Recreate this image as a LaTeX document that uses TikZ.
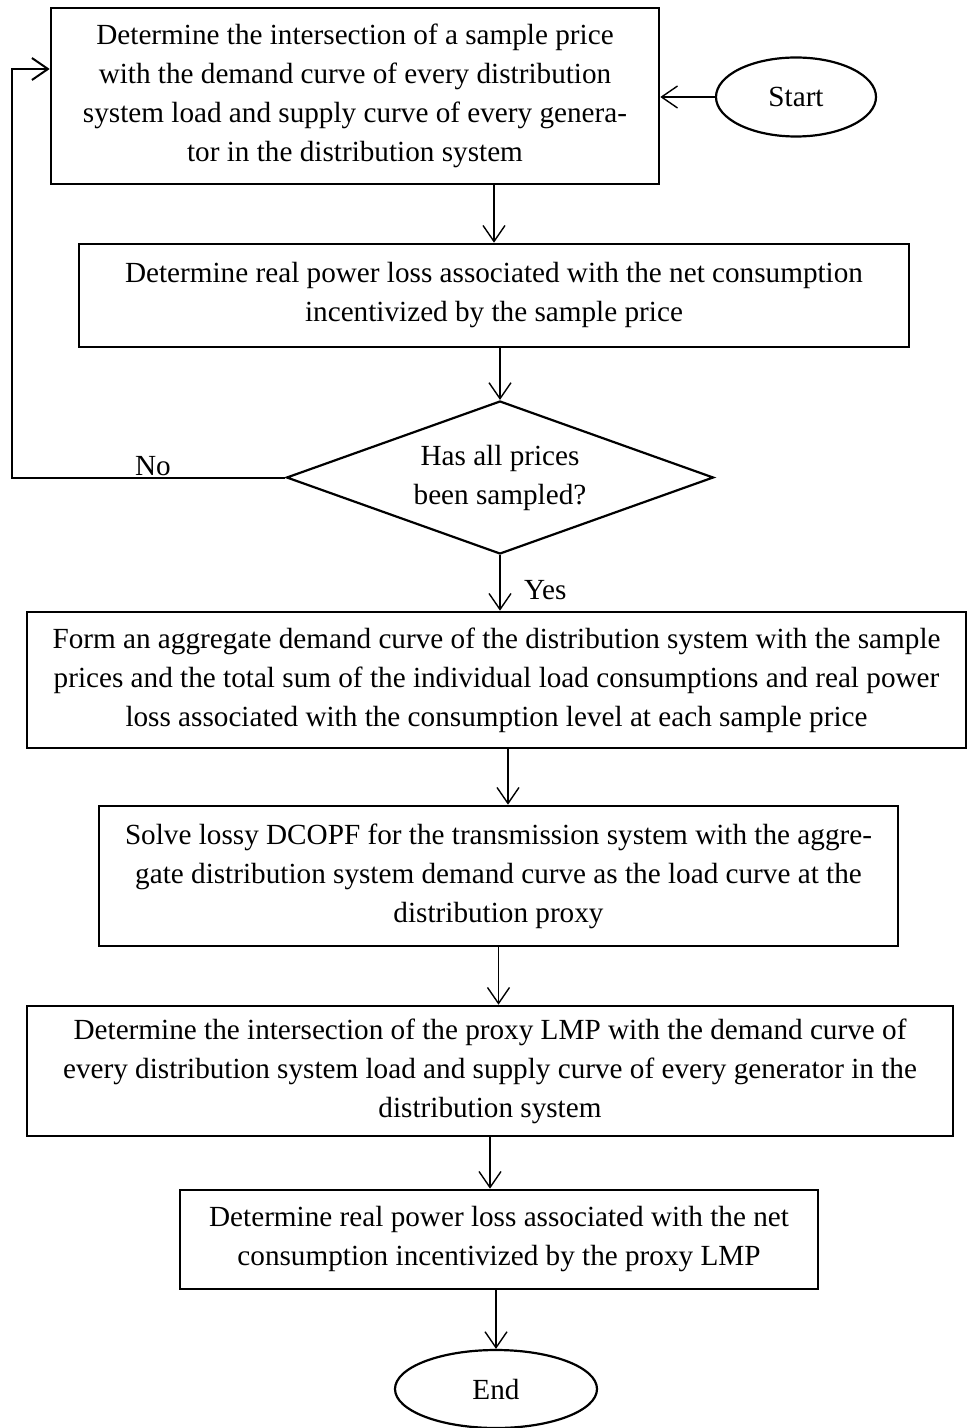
\documentclass[tikz,border=0pt]{standalone}
\usepackage{fontspec}
\setmainfont{Liberation Serif}
\usetikzlibrary{arrows.meta,shapes.geometric}

\begin{document}
\begin{tikzpicture}[x=0.5pt,y=-0.5pt,
  txt/.style={font=\fontsize{14.6}{19.5}\selectfont},
  proc/.style={txt,draw,line width=1.3pt,align=center,inner sep=0pt},
  term/.style={txt,draw,ellipse,line width=1.1pt,inner sep=0pt},
  decide/.style={txt,draw,diamond,aspect=2.8,line width=1.1pt,align=center,inner sep=0pt},
  flow/.style={-{Straight Barb[length=8pt,width=11pt]},line width=0.7pt}
]
\useasboundingbox (0,0) rectangle (966,1428);

\node[proc,minimum width=304pt,minimum height=88pt] (b1) at (355,96)
  {Determine the intersection of a sample price\\
   with the demand curve of every distribution\\
   system load and supply curve of every genera-\\
   tor in the distribution system};
\node[term,minimum width=80pt,minimum height=39.5pt] (start) at (796,97) {Start};

\node[proc,minimum width=415pt,minimum height=51.5pt] (b2) at (494,295.5)
  {Determine real power loss associated with the net consumption\\
   incentivized by the sample price};

\node[decide,minimum width=213.5pt,minimum height=76.5pt] (dec) at (500,477.5)
  {Has all prices\\been sampled?};

\node[proc,minimum width=469.5pt,minimum height=68pt] (b3) at (496.5,680)
  {Form an aggregate demand curve of the distribution system with the sample\\
   prices and the total sum of the individual load consumptions and real power\\
   loss associated with the consumption level at each sample price};

\node[proc,minimum width=399.5pt,minimum height=70pt] (b4) at (498.5,876)
  {Solve lossy DCOPF for the transmission system with the aggre-\\
   gate distribution system demand curve as the load curve at the\\
   distribution proxy};

\node[proc,minimum width=463pt,minimum height=65pt] (b5) at (490,1071)
  {Determine the intersection of the proxy LMP with the demand curve of\\
   every distribution system load and supply curve of every generator in the\\
   distribution system};

\node[proc,minimum width=319pt,minimum height=49.5pt] (b6) at (499,1239.5)
  {Determine real power loss associated with the net\\
   consumption incentivized by the proxy LMP};

\node[term,minimum width=101pt,minimum height=39pt] (end) at (496,1389) {End};

\coordinate (loop) at (12,477.5);

% main flow
\draw[flow] (start.west) -- (start.west -| b1.east);
\draw[flow] (b2.north |- b1.south) -- (b2.north);
\draw[flow] (dec.north |- b2.south) -- (dec.north);
\draw[flow] (dec.south) -- (dec.south |- b3.north);
\node[txt,anchor=west] (yes) at (517,590) {Yes};
\draw[flow] (b3.south -| 508,0) -- (b4.north -| 508,0);
\draw[flow] (b4.south) -- (b4.south |- b5.north);
\draw[flow] (b5.south) -- (b5.south |- b6.north);
\draw[flow] (end.north |- b6.south) -- (end.north);

% return branch
\draw[flow,line width=1pt] (dec.west) -- (loop) |- ([yshift=13.5pt]b1.west);
\node[txt,anchor=base] (no) at (153,475) {No};
\end{tikzpicture}
\end{document}
